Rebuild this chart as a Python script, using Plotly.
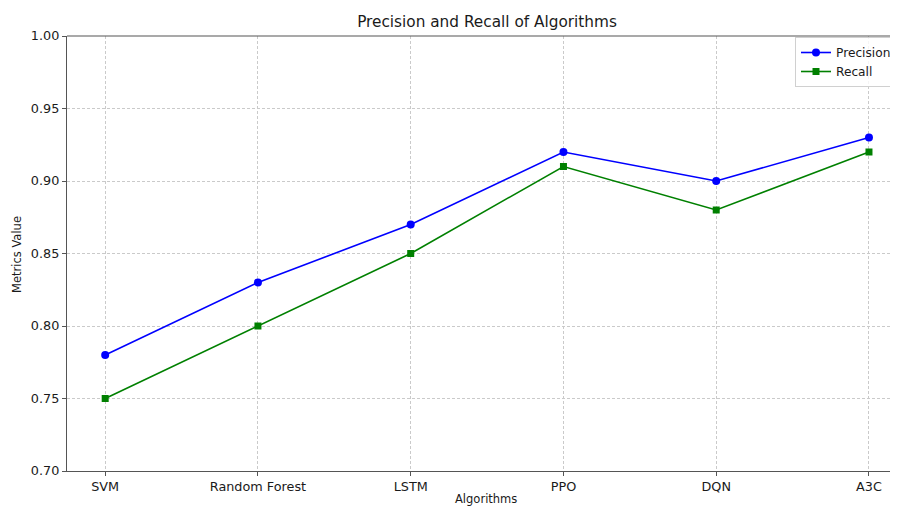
import plotly.graph_objects as go

algorithms = ["SVM", "Random Forest", "LSTM", "PPO", "DQN", "A3C"]
precision = [0.78, 0.83, 0.87, 0.92, 0.90, 0.93]
recall = [0.75, 0.80, 0.85, 0.91, 0.88, 0.92]
y_ticks = [0.70, 0.75, 0.80, 0.85, 0.90, 0.95, 1.00]

# The page body has an 8px default margin; lay the figure out in window pixels minus that offset.
OFF = 8
WIN_W, WIN_H = 898, 509
W, H = WIN_W - OFF, WIN_H - OFF
L, R, T, B = 67 - OFF, 0, 36 - OFF, WIN_H - 471
PW, PH = W - L - R, H - T - B
FONT = "DejaVu Sans"
TXT = "#1a1a1a"
SPINE = "#555555"


def px_x(wx):  # window x -> paper fraction
    return (wx - OFF - L) / PW


def px_y(wy):  # window y -> paper fraction
    return 1 - (wy - OFF - T) / PH


fig = go.Figure()
fig.add_trace(go.Scatter(
    x=list(range(len(algorithms))), y=precision, mode="lines+markers", name="Precision",
    line=dict(color="#0000ff", width=1.6), marker=dict(symbol="circle", size=8, color="#0000ff"),
))
fig.add_trace(go.Scatter(
    x=list(range(len(algorithms))), y=recall, mode="lines+markers", name="Recall",
    line=dict(color="#008000", width=1.6), marker=dict(symbol="square", size=7, color="#008000"),
))

fig.update_layout(
    width=W, height=H,
    margin=dict(l=L, r=R, t=T, b=B, autoexpand=False),
    paper_bgcolor="white", plot_bgcolor="white",
    font=dict(family=FONT, size=12, color=TXT),
    showlegend=True,
    legend=dict(
        x=px_x(795), y=px_y(37), xanchor="left", yanchor="top",
        bordercolor="#d0d0d0", borderwidth=1, bgcolor="rgba(255,255,255,0.8)",
        font=dict(size=12.2, color=TXT), tracegroupgap=0,
    ),
    title=dict(
        text="Precision and Recall of Algorithms",
        x=(487 - OFF) / W, xanchor="center", xref="container",
        y=1 - (22 - OFF) / H, yanchor="middle", yref="container",
        font=dict(size=15.3, color=TXT),
    ),
)

fig.update_xaxes(
    range=[-0.25, 5.19], automargin=False,
    tickmode="array", tickvals=list(range(len(algorithms))), ticktext=algorithms,
    showline=True, linecolor=SPINE, linewidth=1.2, mirror=False,
    ticks="outside", ticklen=4, tickcolor=SPINE,
    showgrid=True, gridcolor="#cacaca", griddash="3px,2px", gridwidth=1,
    zeroline=False, tickfont=dict(size=12.8),
)
fig.update_yaxes(
    range=[0.70, 1.00], automargin=False,
    tickmode="array", tickvals=y_ticks, ticktext=[f"{v:.2f}" for v in y_ticks],
    showline=True, linecolor=SPINE, linewidth=1.2, mirror=False,
    ticks="outside", ticklen=4, tickcolor=SPINE,
    showgrid=True, gridcolor="#cacaca", griddash="3px,2px", gridwidth=1,
    zeroline=False, tickfont=dict(size=12.8),
)

# top spine
fig.add_shape(type="line", xref="paper", yref="paper", x0=0, x1=1, y0=1, y1=1,
              line=dict(color=SPINE, width=1.2))

fig.add_annotation(text="Algorithms", xref="paper", yref="paper",
                   x=px_x(486), y=px_y(499),
                   xanchor="center", yanchor="middle", showarrow=False,
                   font=dict(size=11.5, color=TXT))
fig.add_annotation(text="Metrics Value", xref="paper", yref="paper",
                   x=px_x(17), y=px_y(255), textangle=-90,
                   xanchor="center", yanchor="middle", showarrow=False,
                   font=dict(size=11.5, color=TXT))

fig.write_html("out.html")
